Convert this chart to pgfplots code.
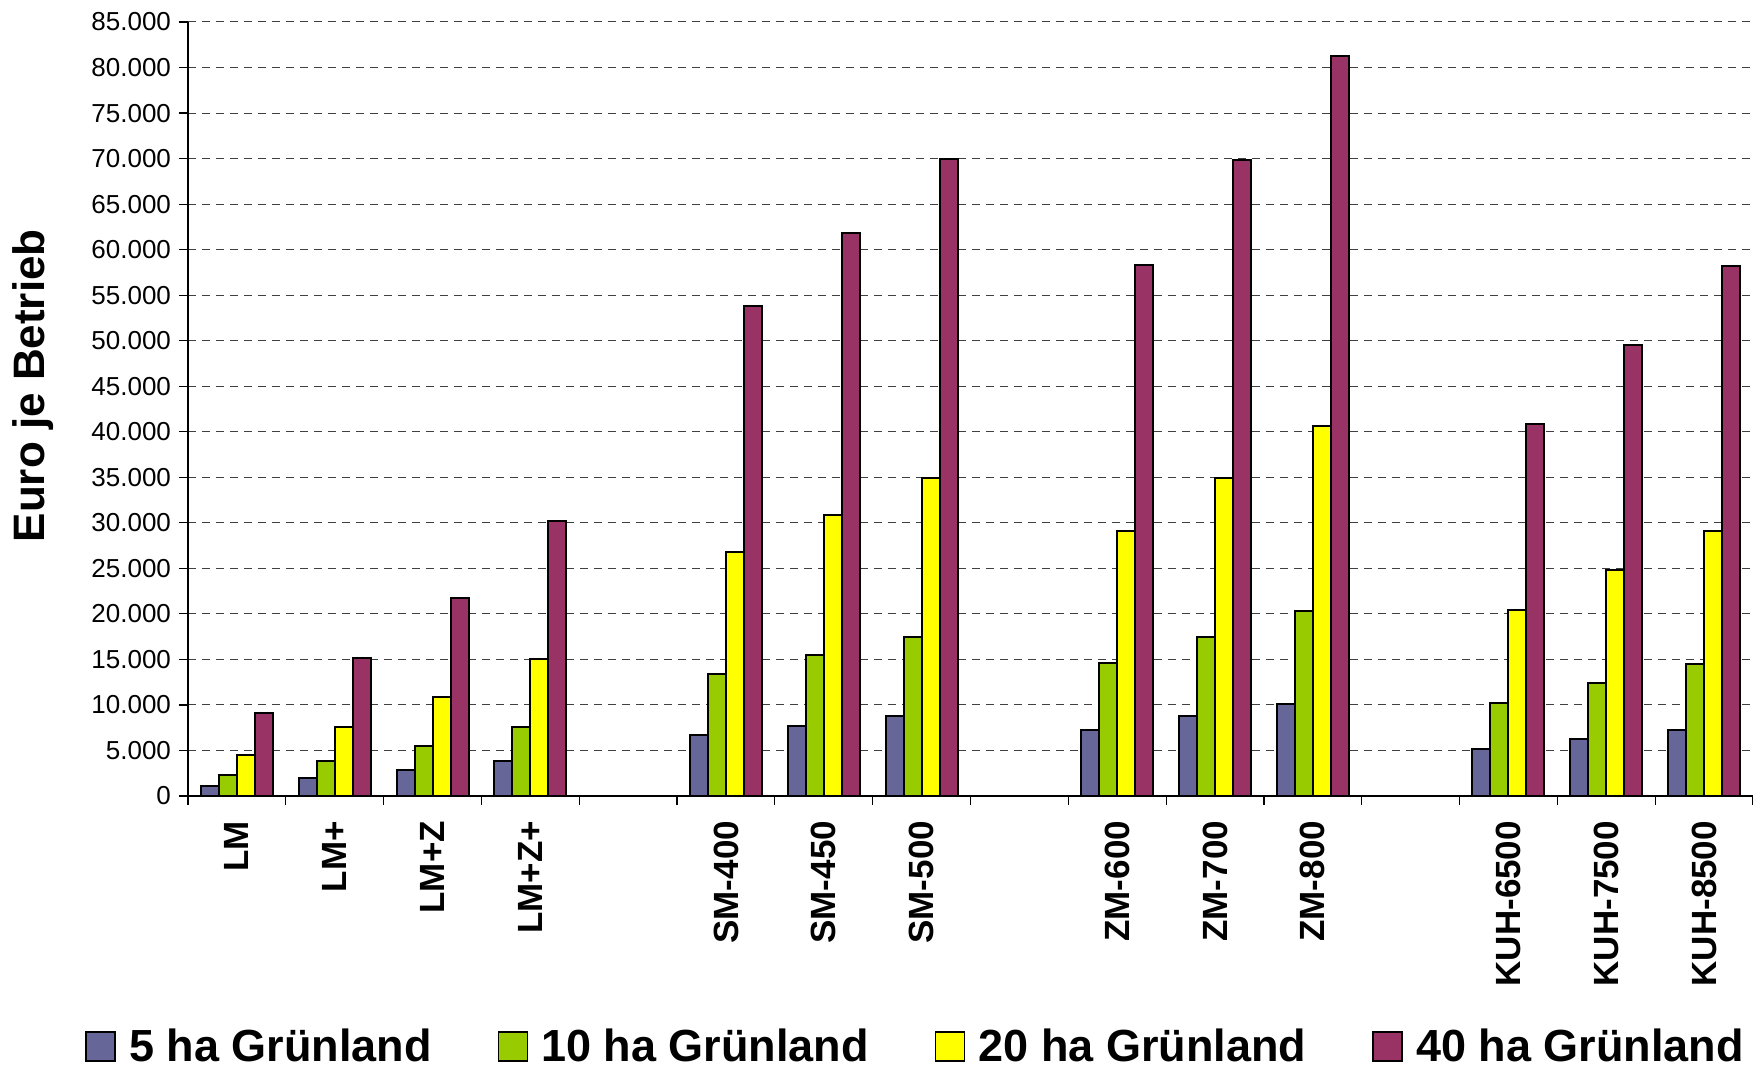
\documentclass[border=0pt]{standalone}
\usepackage{pgfplots}
\pgfplotsset{compat=1.18}
\usepackage{pgfplotstable}
\usepackage{fontspec}
\setmainfont{Liberation Sans}
\definecolor{cA}{HTML}{666699}
\definecolor{cB}{HTML}{99CC00}
\definecolor{cC}{HTML}{FFFF00}
\definecolor{cD}{HTML}{993366}
\pgfplotstableread{
x  a     b     c     d
0  1150  2300  4550  9150
1  1930  3830  7600  15150
2  2800  5440  10880 21700
3  3830  7560  15080 30150
5  6720  13420 26850 53800
6  7720  15450 30880 61850
7  8740  17480 34920 69900
9  7260  14580 29150 58350
10 8740  17450 34870 69800
11 10100 20330 40580 81300
13 5120  10180 20400 40820
14 6220  12400 24770 49500
15 7300  14550 29150 58220
}\datatab
\begin{document}
\begin{tikzpicture}
\path[use as bounding box] (-94pt,-136.5pt) rectangle (782.5pt,398pt);
\begin{axis}[
  scale only axis, width=782.5pt, height=387pt,
  at={(0,0)}, anchor=south west,
  ybar=0pt, bar width=9pt,
  xmin=-0.5, xmax=15.5, ymin=0, ymax=85000,
  axis x line*=bottom, axis y line*=left,
  axis line style={black, line width=0.6pt},
  tick align=outside,
  major tick length=4.5pt,
  tick style={black, line width=0.6pt},
  xtick={-0.5,0.5,...,15.5}, xticklabels={},
  extra x ticks={0,1,2,3,5,6,7,9,10,11,13,14,15},
  extra x tick labels={LM,LM+,LM+Z,LM+Z+,SM-400,SM-450,SM-500,ZM-600,ZM-700,ZM-800,KUH-6500,KUH-7500,KUH-8500},
  extra x tick style={major tick length=0pt},
  xticklabel style={yshift=-9pt, rotate=90, anchor=east, font=\bfseries\fontsize{17.5}{20}\selectfont},
  ytick={0,5000,...,85000},
  scaled y ticks=false,
  yticklabel style={font=\fontsize{13}{15}\selectfont, xshift=-0.5pt},
  /pgf/number format/assume math mode=true,
  /pgf/number format/1000 sep={.},
  ymajorgrids,
  grid style={black!75, line width=0.5pt, dash pattern=on 4pt off 3pt},
  ylabel={Euro je Betrieb},
  ylabel style={font=\bfseries\fontsize{22}{26}\selectfont, at={(axis description cs:-0.0987,0.53)}, anchor=center},
  legend columns=4,
  legend style={at={(axis description cs:0.4655,-0.3235)}, anchor=center, draw=none, fill=none,
    font=\bfseries\fontsize{22.5}{26}\selectfont,
    /tikz/every even column/.append style={column sep=31pt}},
  legend image code/.code={\draw[#1,draw=black,line width=0.75pt] (0pt,-7.25pt) rectangle (14.5pt,7.25pt); \path (19pt,0pt);},
  every axis plot/.append style={draw=black, line width=1pt},
]
\addplot[fill=cA] table[x=x,y=a]{\datatab};
\addplot[fill=cB] table[x=x,y=b]{\datatab};
\addplot[fill=cC] table[x=x,y=c]{\datatab};
\addplot[fill=cD] table[x=x,y=d]{\datatab};
\legend{5 ha Grünland,10 ha Grünland,20 ha Grünland,40 ha Grünland}
\end{axis}
\end{tikzpicture}
\end{document}
